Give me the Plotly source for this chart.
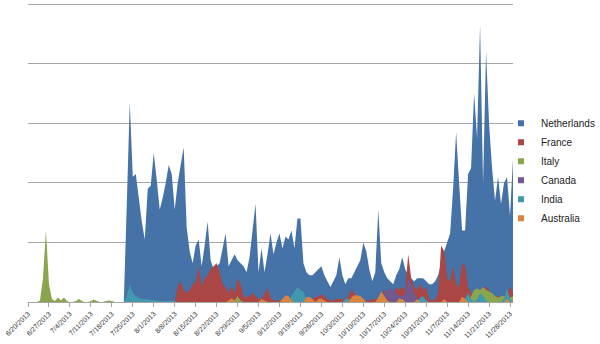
import pandas as pd
import plotly.graph_objects as go

# ---- data (daily values, 6/20/2013 .. 11/29/2013) ----
START_DATE = "2013-06-20"
END_DATE = "2013-11-29"

netherlands = (
    [0] * 30
    + [0, 0, 0, 33, 67, 42, 43, 35, 27, 21]
    + [38, 39, 50, 41, 31, 35, 40, 46, 43, 31]
    + [40, 46, 52, 25, 17, 13, 19, 21, 12, 19]
    + [27, 14, 11, 12, 13, 18, 23, 12, 14, 16]
    + [14, 13, 12, 10, 15, 24, 33, 10, 18, 10]
    + [16, 23, 16, 20, 23, 18, 22, 21, 24, 18]
    + [28, 28, 13, 10, 9, 9, 10, 11, 12, 9]
    + [7, 5, 7, 9, 15, 9, 6, 8, 8, 10]
    + [12, 14, 20, 17, 11, 7, 10, 31, 13, 10]
    + [8, 7, 6, 9, 11, 15, 11, 9, 8, 7]
    + [8, 8, 8, 7, 6, 6, 7, 9, 13, 17]
    + [20, 23, 38, 57, 40, 24, 24, 43, 45, 70]
    + [55, 93, 40, 84, 60, 45, 34, 42, 33, 40]
    + [42, 29, 48]
)

france = (
    [0] * 50
    + [5, 7, 4, 3, 4, 6, 7, 12, 5, 8]
    + [9, 11, 12, 13, 10, 6, 5, 3, 5, 3]
    + [8, 6, 2, 1.5, 2, 3, 2, 1, 1, 3]
    + [4.5, 1.5, 0.5, 0.5, 0.5, 0.5, 0.5, 0.5, 0.5, 0.5]
    + [0.5, 0.5, 1, 1, 1, 1, 1.5, 2, 2.5, 2]
    + [1, 0.5, 0.5, 1, 1, 1, 1, 2, 4, 3]
    + [1, 0.5, 0.5, 0.5, 0.5, 1, 1, 1, 2, 4]
    + [2, 1, 2, 5, 4, 5, 4, 16, 8, 5]
    + [4, 6, 4, 5, 1, 0.5, 1, 3, 19, 17]
    + [8, 7, 12, 6, 5, 13, 12, 5, 3, 1.5]
    + [3, 4, 5, 5, 4, 2, 2, 2, 1.5, 2]
    + [3, 5, 3]
)

italy = (
    [0, 0, 0, 0, 0.5, 8, 24, 6, 1, 0.3]
    + [1.5, 0.5, 1.5, 0.3, 0, 0, 0.3, 1, 0.3, 0]
    + [0, 0.3, 0.8, 0.3, 0, 0, 0.3, 0.5, 0.3, 0]
    + [0] * 30
    + [0, 0, 0, 0, 0, 0, 0, 0, 0, 0.5]
    + [2, 0.5, 0, 0, 0, 0, 0, 0, 0, 0]
    + [0] * 60
    + [0, 0, 0, 0, 0, 0, 0.5, 1, 2, 4]
    + [4.5, 4, 5, 4, 3.5, 3, 2, 1.5, 2, 2]
    + [1, 1.5, 2, 2, 1.5, 2, 2.5, 2, 2.5, 2]
    + [1.5, 2, 1]
)

canada = (
    [0] * 110
    + [0, 0, 0, 0, 0, 0, 0, 0, 1, 3]
    + [4, 4.5, 4, 3, 2, 2, 3, 8, 6, 3]
    + [1, 0.5, 0, 0, 0, 0, 0, 0, 0, 0]
    + [0] * 23
)

india = (
    [0] * 30
    + [0, 0, 0, 2, 6, 3, 2, 1.5, 1, 1]
    + [1, 0.7, 0.5, 0.5, 0.3, 0.3, 0.3, 0.3, 0.3, 0.3]
    + [0] * 30
    + [0, 0, 0, 0, 0, 0, 0, 0.5, 2, 3.5]
    + [5, 4, 3.5, 1, 0.5, 0, 0, 0, 0, 0]
    + [0, 0, 0, 0, 0, 0, 1, 1.3, 0, 0]
    + [0, 0, 0.8, 0, 0, 0, 0, 0, 0, 0]
    + [0, 0, 0, 0, 0, 1, 0, 0, 0, 0]
    + [0, 1.5, 2, 0.5, 0, 0, 0, 0, 0, 0]
    + [0, 0, 0, 0, 0, 0, 1, 3, 1, 0]
    + [1, 3, 2, 0.5, 0, 0, 0, 0, 0, 1]
    + [4.5, 1, 0]
)

australia = (
    [0] * 60
    + [0, 0, 0, 0, 0, 0, 0, 0.5, 1.3, 0.5]
    + [0, 0, 0, 0, 0, 0, 0, 0, 1, 0.5]
    + [0, 0, 0, 0, 0, 1, 2.3, 2, 0.5, 0]
    + [0, 0, 0, 1.5, 1.8, 1, 0, 1, 1.2, 0.5]
    + [0, 0, 0, 0, 0, 0, 0, 0, 1.5, 2.3]
    + [2.3, 2, 1, 0, 0, 0, 0, 1.5, 3.5, 2]
    + [0.5, 0, 0, 0, 1.2, 1, 0, 0, 0, 0]
    + [1, 0, 0, 0, 0, 0, 0, 0, 0, 1]
    + [0, 0, 0, 0, 0, 1.8, 1, 0, 0, 0]
    + [0] * 10
    + [1, 0, 0]
)

series_names = ["Netherlands", "France", "Italy", "Canada", "India", "Australia"]
series_values = [netherlands, france, italy, canada, india, australia]
series_colors = ["#4572A7", "#AA4643", "#89A54E", "#71588F", "#4198AF", "#DB843D"]

tick_labels = [
    "6/20/2013", "6/27/2013", "7/4/2013", "7/11/2013", "7/18/2013", "7/25/2013",
    "8/1/2013", "8/8/2013", "8/15/2013", "8/22/2013", "8/29/2013", "9/5/2013",
    "9/12/2013", "9/19/2013", "9/26/2013", "10/3/2013", "10/10/2013", "10/17/2013",
    "10/24/2013", "10/31/2013", "11/7/2013", "11/14/2013", "11/21/2013", "11/28/2013",
]

dates = pd.date_range(START_DATE, END_DATE, freq="D")
tick_vals = pd.to_datetime(tick_labels, format="%m/%d/%Y")

FONT = "Liberation Sans"

fig = go.Figure()
for name, vals, col in zip(series_names, series_values, series_colors):
    fig.add_trace(go.Scatter(
        x=dates, y=vals, name=name, mode="none", fill="tozeroy",
        fillcolor=col, showlegend=False, hoverinfo="x+y+name",
    ))
for name, col in zip(series_names, series_colors):
    fig.add_trace(go.Scatter(
        x=[None], y=[None], name=name, mode="markers",
        marker=dict(symbol="square", size=6, color=col), showlegend=True,
    ))

fig.update_layout(
    width=600, height=344,
    margin=dict(l=28, r=87, t=3, b=42, autoexpand=False),
    paper_bgcolor="white", plot_bgcolor="white",
    font=dict(family=FONT, size=10, color="#222222"),
    showlegend=True,
    legend=dict(
        xref="container", yref="container",
        x=0.835, xanchor="left", y=0.684, yanchor="top",
        font=dict(family=FONT, size=10, color="#222222"),
        itemwidth=30, bgcolor="rgba(0,0,0,0)", borderwidth=0,
    ),
    xaxis=dict(
        type="date", range=[START_DATE, END_DATE],
        tickmode="array", tickvals=tick_vals, ticktext=tick_labels,
        tickangle=-45, tickfont=dict(family=FONT, size=7, color="#333333"),
        showgrid=False, showline=True, linecolor="#A6A6A6", linewidth=1,
        ticks="outside", ticklen=4, tickcolor="#A6A6A6", zeroline=False,
    ),
    yaxis=dict(
        range=[0, 100.4], tickmode="array", tickvals=[20, 40, 60, 80, 100],
        showticklabels=False,
        showgrid=True, gridcolor="#A6A6A6", gridwidth=1,
        zeroline=False, showline=False, ticks="",
    ),
)

fig.write_html("out.html")
